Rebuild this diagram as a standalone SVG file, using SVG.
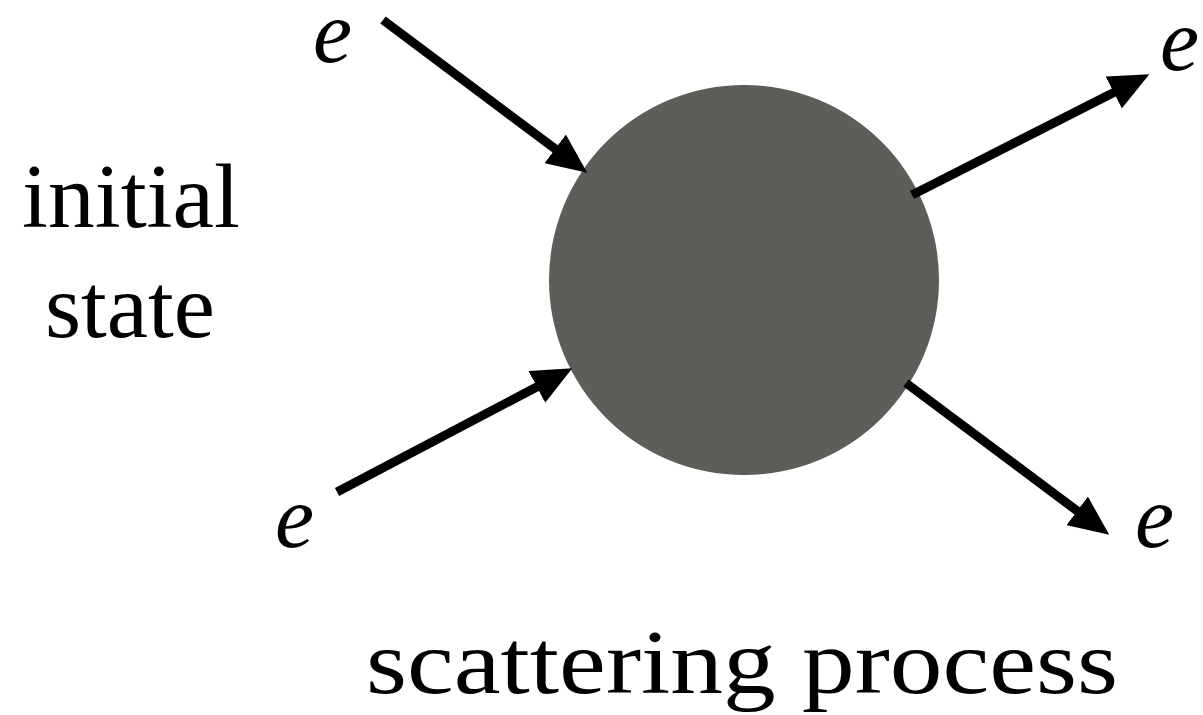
<svg xmlns="http://www.w3.org/2000/svg" width="1203" height="715" viewBox="0 0 1203 715">
<style>
.lbl{font-family:"Liberation Serif","DejaVu Serif",serif;fill:#000}
.e{font-style:italic;font-size:88px}
.big{font-size:90px}
.arr{stroke:#000;stroke-width:9;fill:none;marker-end:url(#ah)}
</style>
<defs>
<marker id="ah" markerUnits="userSpaceOnUse" markerWidth="40" markerHeight="36" viewBox="0 0 38 34" refX="10" refY="17" orient="auto">
<path d="M0,0 L38,17 L0,34 z" fill="#000"/>
</marker>
</defs>
<rect width="1203" height="715" fill="#fff"/>
<g id="blob"><circle cx="744" cy="280" r="195" fill="#5e5d59"/></g>
<g id="connectors">
<line class="arr" x1="383" y1="20" x2="563.6" y2="155.2"/>
<line class="arr" x1="337" y1="492" x2="546.2" y2="382"/>
<line class="arr" x1="912" y1="195" x2="1123.1" y2="87.7"/>
<line class="arr" x1="906" y1="383" x2="1085.6" y2="517.2"/>
</g>
<g id="e-in-top"><text class="lbl e" x="313" y="62">e</text></g>
<g id="e-in-bottom"><text class="lbl e" x="275" y="547">e</text></g>
<g id="e-out-top"><text class="lbl e" x="1160" y="70">e</text></g>
<g id="e-out-bottom"><text class="lbl e" x="1135" y="547">e</text></g>
<g id="initial-state">
<text class="lbl big" x="22" y="227" textLength="218" lengthAdjust="spacingAndGlyphs">initial</text>
<text class="lbl big" x="45" y="337" textLength="170" lengthAdjust="spacingAndGlyphs">state</text>
</g>
<g id="caption"><text class="lbl big" x="366" y="693" textLength="752" lengthAdjust="spacingAndGlyphs">scattering process</text></g>
</svg>
